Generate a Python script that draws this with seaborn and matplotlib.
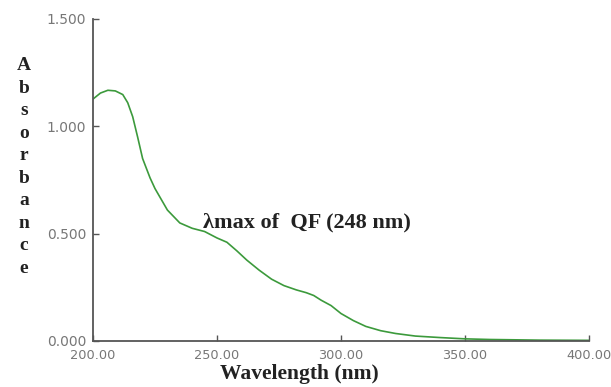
import matplotlib
matplotlib.use("Agg")
import matplotlib.pyplot as plt
import seaborn as sns
import pandas as pd

wavelength = [200, 203, 206, 209, 212, 214, 216, 218, 220, 223, 225, 227, 230, 235, 240,
              245, 250, 254, 258, 262, 267, 272, 277, 282, 286, 289, 292, 296, 300,
              305, 310, 316, 322, 330, 340, 350, 360, 380, 400]
absorbance = [1.127, 1.155, 1.168, 1.165, 1.148, 1.11, 1.045, 0.95, 0.85, 0.76, 0.71, 0.67,
              0.61, 0.55, 0.525, 0.51, 0.48, 0.46, 0.42, 0.377, 0.33, 0.288, 0.258, 0.238,
              0.225, 0.212, 0.19, 0.165, 0.128, 0.095, 0.068, 0.048, 0.035, 0.023, 0.016,
              0.010, 0.007, 0.004, 0.003]
xticks = [200, 250, 300, 350, 400]
yticks = [0.0, 0.5, 1.0, 1.5]
annotation = "λmax of  QF (248 nm)"
xlabel = "Wavelength (nm)"
ylabel = "Absorbance"

df = pd.DataFrame({"wavelength": wavelength, "absorbance": absorbance})

sns.set_style("white")
fig = plt.figure(figsize=(6.11, 3.87), dpi=100)
ax = fig.add_axes([93/611, 1-341/387, (589-93)/611, (341-19)/387])

sns.lineplot(data=df, x="wavelength", y="absorbance", ax=ax, color="#3c9a3c", linewidth=1.2)

ax.set_xlim(200, 400)
ax.set_ylim(0, 1.5)
ax.set_xticks(xticks)
ax.set_yticks(yticks)
ax.set_xticklabels([f"{v:.2f}" for v in xticks])
ax.set_yticklabels([f"{v:.3f}" for v in yticks])
ax.tick_params(axis="both", direction="in", length=4, width=1, color="#555555",
               labelcolor="#777777", bottom=True, left=True)
ax.tick_params(axis="x", pad=6, labelsize=9.3)
ax.tick_params(axis="y", pad=5, labelsize=10)
for s in ["top", "right"]:
    ax.spines[s].set_visible(False)
for s in ["left", "bottom"]:
    ax.spines[s].set_color("#555555")
    ax.spines[s].set_linewidth(1.3)
ax.set_xlabel("")
ax.set_ylabel("")

ax.text(244.5, 0.55, annotation, fontsize=16, fontweight="bold",
        family="Liberation Serif", va="center", ha="left", color="#222222")

fig.text(299/611, 1-374/387, xlabel, fontsize=15.5, fontweight="bold",
         family="Liberation Serif", ha="center", va="center", color="#222222")
fig.text(24/611, 1-167/387, "\n".join(ylabel), fontsize=14, fontweight="bold",
         family="Liberation Serif", ha="center", va="center", color="#222222",
         linespacing=1.42)

fig.savefig("out.png", dpi=100)
